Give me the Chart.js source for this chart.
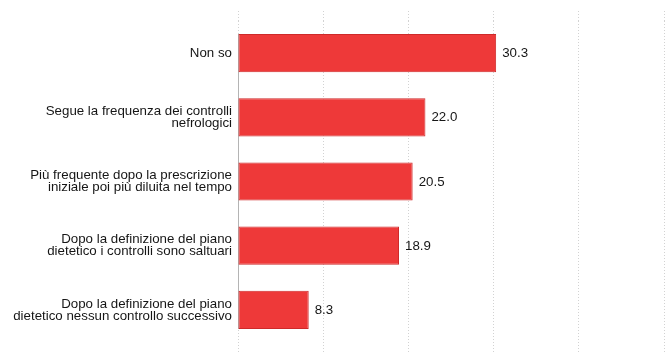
<!DOCTYPE html>
<html lang="it">
<head>
<meta charset="utf-8">
<title>Frequenza dei controlli</title>
<script src="https://cdn.jsdelivr.net/npm/chart.js@4.4.1/dist/chart.umd.min.js"></script>
<style>
  html, body { margin: 0; padding: 0; background: #ffffff; }
  #wrap { position: relative; width: 668px; height: 354px; }
</style>
</head>
<body>
<div id="wrap"><canvas id="chart"></canvas></div>
<script>
// Risposte (etichette su più righe) e percentuali
const categories = [
  ["Non so"],
  ["Segue la frequenza dei controlli", "nefrologici"],
  ["Più frequente dopo la prescrizione", "iniziale poi più diluita nel tempo"],
  ["Dopo la definizione del piano", "dietetico i controlli sono saltuari"],
  ["Dopo la definizione del piano", "dietetico nessun controllo successivo"]
];
const values = [30.3, 22.0, 20.5, 18.9, 8.3];
const axisMin = 0;
const axisMax = 50;
const axisStep = 10;

const FONT = "'Liberation Sans', Arial, Helvetica, sans-serif";
const TEXT = "#161616";
const GRID = "#d2d2d2";

// Valore scritto a destra di ogni barra
const valueLabels = {
  id: "valueLabels",
  afterDatasetsDraw(chart) {
    const ctx = chart.ctx;
    const meta = chart.getDatasetMeta(0);
    const data = chart.data.datasets[0].data;
    ctx.save();
    ctx.font = "13.3px " + FONT;
    ctx.fillStyle = TEXT;
    ctx.textAlign = "left";
    ctx.textBaseline = "middle";
    meta.data.forEach((bar, i) => {
      ctx.fillText(Number(data[i]).toFixed(1), bar.x + 6, bar.y + 0.5);
    });
    ctx.restore();
  }
};

// Linea dello zero, dal bordo della prima barra a quello dell'ultima
const zeroLine = {
  id: "zeroLine",
  beforeDatasetsDraw(chart) {
    const bars = chart.getDatasetMeta(0).data;
    if (!bars.length) return;
    const x = Math.round(chart.scales.x.getPixelForValue(0)) + 0.5;
    const first = bars[0], last = bars[bars.length - 1];
    const ctx = chart.ctx;
    ctx.save();
    ctx.strokeStyle = "#b4b4b4";
    ctx.lineWidth = 1;
    ctx.beginPath();
    ctx.moveTo(x, first.y - first.height / 2);
    ctx.lineTo(x, last.y + last.height / 2);
    ctx.stroke();
    ctx.restore();
  }
};

const dotted = [1, 2];

new Chart(document.getElementById("chart"), {
  type: "bar",
  data: {
    labels: categories,
    datasets: [{
      data: values,
      backgroundColor: "rgb(238, 57, 57)",
      borderColor: "rgb(206, 42, 42)",
      borderWidth: 1,
      borderSkipped: false,
      categoryPercentage: 1.0,
      barPercentage: 0.595
    }]
  },
  options: {
    indexAxis: "y",
    responsive: true,
    maintainAspectRatio: false,
    animation: false,
    layout: { padding: { top: 11, right: 4, bottom: 0, left: 0 } },
    plugins: {
      legend: { display: false },
      tooltip: { enabled: false },
      title: { display: false }
    },
    scales: {
      x: {
        type: "linear",
        position: "top",
        min: axisMin,
        max: axisMax,
        ticks: { stepSize: axisStep, display: false },
        grid: {
          color: GRID,
          lineWidth: 1,
          borderDash: dotted,
          drawTicks: true,
          tickLength: 10,
          tickColor: GRID,
          tickBorderDash: dotted
        },
        border: { display: false, dash: dotted }
      },
      x2: {
        type: "linear",
        position: "bottom",
        min: axisMin,
        max: axisMax,
        ticks: { stepSize: axisStep, display: false },
        grid: {
          color: GRID,
          drawOnChartArea: false,
          drawTicks: true,
          tickLength: 10,
          tickColor: GRID,
          tickBorderDash: dotted
        },
        border: { display: false }
      },
      y: {
        type: "category",
        grid: { display: false, drawTicks: false },
        border: { display: false },
        ticks: {
          color: TEXT,
          padding: 6,
          font: { family: FONT, size: 13.3, lineHeight: 0.9 }
        },
        afterFit(scale) { scale.width = 238; }
      }
    }
  },
  plugins: [zeroLine, valueLabels]
});
</script>
</body>
</html>
